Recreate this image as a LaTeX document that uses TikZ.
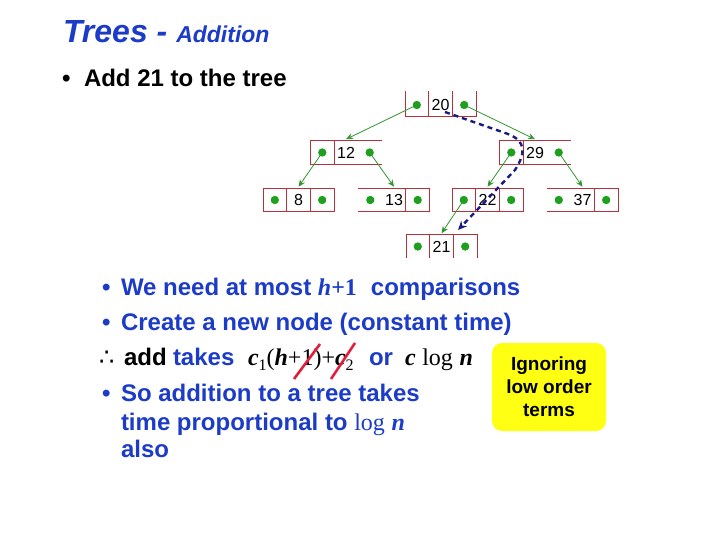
\documentclass[tikz,border=0pt]{standalone}
\usepackage{fontspec}
\setmainfont{Liberation Sans}
\newfontfamily\tms{Liberation Serif}
\newfontfamily\djv{DejaVu Sans}
\usetikzlibrary{arrows.meta}
\definecolor{tblue}{RGB}{28,60,200}
\definecolor{tgreen}{RGB}{30,160,30}
\definecolor{agreen}{RGB}{50,150,50}
\definecolor{cellred}{RGB}{180,50,60}
\definecolor{navy}{RGB}{25,25,130}
\definecolor{strike}{RGB}{225,30,60}
\definecolor{noteyellow}{RGB}{255,255,20}
\newcommand\setfs[1]{\fontsize{#1}{#1}\selectfont}
\newcommand\mi[1]{{\tms\bfseries\itshape #1}}
\newcommand\mr[1]{{\tms #1}}
\newcommand\tnode[4]{%
  \node[cell] (#1L) at ({#2-23.7},#3) {};
  \node[key] (#1) at (#2,#3) {#4};
  \node[cell] (#1R) at ({#2+23.7},#3) {};
  \node[dot] (#1dL) at (#1L.center) {};
  \node[dot] (#1dR) at (#1R.center) {};
}
\begin{document}
\begin{tikzpicture}[x=1pt,y=-1pt,
  cell/.style={minimum width=23.7pt,minimum height=23.5pt,inner sep=0pt,outer sep=0pt},
  key/.style={cell,font=\setfs{16}},
  dot/.style={circle,fill=tgreen,inner sep=0pt,minimum size=8pt},
  cline/.style={draw=cellred,line width=0.8pt},
  garrow/.style={draw=agreen,line width=0.8pt,-{Stealth[length=7pt,width=6pt]}},
  txt/.style={anchor=base west,inner sep=0pt,outer sep=0pt},
  body/.style={txt,text=tblue,font=\setfs{24}\bfseries},
]
\useasboundingbox (0,0) rectangle (720,540);
\fill[white] (0,0) rectangle (720,540);

% title
\node[txt,text=tblue,font=\setfs{32}\bfseries\itshape] (title) at (63,43) {Trees - {\setfs{23}Addition}};
\node[txt,font=\setfs{24}\bfseries] (b0) at (62,87) {•};
\node[txt,font=\setfs{24}\bfseries] (l0) at (84,87) {Add 21 to the tree};

% tree cells
\tnode{n20}{440.5}{105}{20}
\tnode{n12}{346}{152.5}{12}
\tnode{n29}{535}{152.5}{29}
\tnode{n8}{298.5}{200}{8}
\tnode{n13}{394}{200}{13}
\tnode{n22}{487.5}{200}{22}
\tnode{n37}{582.5}{200}{37}
\tnode{n21}{441.5}{246.5}{21}

\begin{scope}[on background layer/.style={}]
\end{scope}

% cell borders (as printed)
\draw[cline] ([yshift=2pt]n20L.north west) -- (n20L.south west) -- (n20R.south east) -- ([yshift=2pt]n20R.north east);
\draw[cline] ([yshift=2pt]n20.north west) -- (n20.south west) ([yshift=2pt]n20.north east) -- (n20.south east);
\draw[cline] (n12R.north east) -- (n12L.north west) -- (n12L.south west) -- (n12R.south east) (n12.north west) -- (n12.south west);
\draw[cline] (n29R.north east) -- (n29L.north west) -- (n29L.south west) -- (n29R.south east) (n29.north west) -- (n29.south west);
\draw[cline] (n8L.north west) rectangle (n8R.south east) (n8.north west) -- (n8.south west) (n8.north east) -- (n8.south east);
\draw[cline] (n22L.north west) rectangle (n22R.south east) (n22.north west) -- (n22.south west) (n22.north east) -- (n22.south east);
\draw[cline] (n13L.north west) -- (n13R.north east) -- (n13R.south east) -- (n13L.south west) (n13.north east) -- (n13.south east);
\draw[cline] (n37L.north west) -- (n37R.north east) -- (n37R.south east) -- (n37L.south west) (n37.north east) -- (n37.south east);
\draw[cline] (n21L.south west) -- (n21L.north west) -- (n21R.north east) -- (n21R.south east) (n21.north west) -- (n21.south west) (n21.north east) -- (n21.south east);

% green arrows
\draw[garrow] (n20dL.center) -- ([yshift=1.5pt]n12.north);
\draw[garrow] (n20dR.center) -- ([yshift=1.5pt]n29.north);
\draw[garrow] (n12dL.center) -- ([yshift=1.5pt]n8.north);
\draw[garrow] (n12dR.center) -- ([yshift=1.5pt]n13.north);
\draw[garrow] (n29dL.center) -- ([yshift=1.5pt]n22.north);
\draw[garrow] (n29dR.center) -- ([yshift=1.5pt]n37.north);
\draw[garrow] (n22dL.center) -- ([yshift=1.5pt]n21.north);

% redraw dots on top
\foreach \n in {n20,n12,n29,n8,n13,n22,n37,n21}{
  \fill[tgreen] (\n dL.center) circle (4pt);
  \fill[tgreen] (\n dR.center) circle (4pt);
}

% search path
\coordinate (ps) at (445,112);
\coordinate (pe) at (458,230);
\draw[navy,line width=2.4pt,dash pattern=on 5pt off 4pt,-{Stealth[length=9pt,width=8pt]}]
  (ps) -- (508,134) .. controls (526,141) and (526,153) .. (515,170) -- (pe);

% body text
\node[txt,text=tblue,font=\setfs{24}\bfseries] at (102,295) {•};
\node[body] (t1) at (121,295) {We need at most \mi{h}\mr{+1}\hspace{14pt}comparisons};
\node[txt,text=tblue,font=\setfs{24}\bfseries] at (102,330) {•};
\node[body] (t2) at (121,330) {Create a new node (constant time)};
\node[txt,font=\setfs{24}\djv] at (99,365) {∴};
\node[txt,font=\setfs{24}\bfseries] (t3a) at (124,365) {add};
\node[body] (t3b) at (173,365) {takes};
\node[txt,font=\setfs{24}] (t3c) at (248,365) {\mi{c}\raisebox{-5pt}{\mr{\setfs{16}1}}\mr{(}\mi{h}\mr{+1)+}\mi{c}\raisebox{-5pt}{\mr{\setfs{16}2}}};
\node[body] (t3d) at (369,365) {or};
\node[txt,font=\setfs{24}] (t3e) at (405,365) {\mi{c} \mr{log} \mi{n}};
\draw[strike,line width=2.6pt] (294,379) -- (320,344);
\draw[strike,line width=2.6pt] (331,379) -- (355,343);
\node[txt,text=tblue,font=\setfs{24}\bfseries] at (102,401) {•};
\node[body] (t4) at (121,401) {So addition to a tree takes};
\node[body] (t5) at (121,430) {time proportional to \mr{\mdseries log} \mi{n}};
\node[body] (t6) at (121,457) {also};

% note
\node[fill=noteyellow,rounded corners=10pt,minimum width=114pt,minimum height=88pt,
  align=center,font=\setfs{19}\bfseries,execute at begin node=\setlength{\baselineskip}{23pt}] (note) at (549,387) {Ignoring\\low order\\terms};
\end{tikzpicture}
\end{document}
